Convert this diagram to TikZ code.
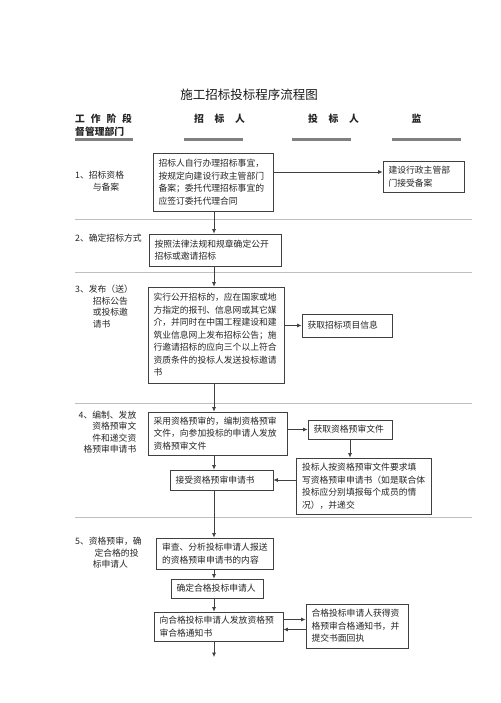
\documentclass[tikz,border=0pt]{standalone}
\usepackage{fontspec}
\setmainfont{Noto Sans CJK SC}
\usepackage{tikz}
\usetikzlibrary{calc}
\usetikzlibrary{arrows.meta}
\usetikzlibrary{positioning}
\newcommand{\boxfont}{\fontsize{8.8}{12.5}\selectfont}
\newcommand{\sidefont}{\fontsize{8.8}{11.5}\selectfont}
\colorlet{boxline}{black!75}
\colorlet{sepline}{black!25}

\begin{document}
\begin{tikzpicture}[
x=1pt,y=-1pt,
Box/.style={draw=boxline,line width=0.8pt,align=left,inner xsep=5.5pt,inner ysep=2pt,font=\boxfont,text=black!85},
Side/.style={inner sep=0pt,font=\sidefont,text=black!85},
Head/.style={inner sep=0pt,font=\fontsize{9.8}{13}\selectfont\bfseries,text=black!85},
Bar/.style={draw=black!50,line width=3.2pt},
Sep/.style={draw=sepline,line width=0.6pt},
Flow/.style={draw=boxline,line width=0.7pt,-{Latex[length=4.5pt,width=4pt]}}
]
\path[fill=white] (0,0) rectangle (500,703);
\useasboundingbox (0,0) rectangle (500,703);

% title and columns
\node[font=\fontsize{12.5}{15}\selectfont,text=black!90] (title) at (249,95) {施工招标投标程序流程图};
\node[Head,anchor=west,align=left] (h0) at (75,125.5) {工\hspace{.6em}作\hspace{.6em}阶\hspace{.6em}段\\督管理部门};
\node[Head] (h1) at (219.5,119) {招\hspace{1.1em}标\hspace{1.1em}人};
\node[Head] (h2) at (333.5,119) {投\hspace{1.1em}标\hspace{1.1em}人};
\node[Head] (h3) at (416.5,119) {监};
\foreach \a/\b in {75/133,184/243,292/351,392/461}
  \draw[Bar] (\a,139.5) -- (\b,139.5);

\foreach \y in {219,272,403,517}
  \draw[Sep] (75,\y) -- (472,\y);

% stages
\node[Side,anchor=west,align=left] (s1) at (75,181) {1、招标资格\\\hspace*{2em}与备案};
\node[Side,anchor=west,align=left] (s2) at (75,238) {2、确定招标方式};
\node[Side,anchor=west,align=left] (s3) at (75,306.5) {3、发布（送）\\\hspace*{2em}招标公告\\\hspace*{2em}或投标邀\\\hspace*{2em}请书};
\node[Side,anchor=east,align=right] (s4) at (136.5,432) {4、编制、发放\\资格预审文\\件和递交资\\格预审申请书};
\node[Side,anchor=west,align=left] (s5) at (75,553) {5、资格预审，确\\\hspace*{2.2em}定合格的投\\\hspace*{2em}标申请人};

% boxes
\node[Box,text width=109pt,minimum height=58pt] (b1) at (213,182) {招标人自行办理招标事宜，\\按规定向建设行政主管部门\\备案；委托代理招标事宜的\\应签订委托代理合同};
\node[Box,text width=70pt,minimum height=31pt] (b1r) at (423.5,176.5) {建设行政主管部\\门接受备案};
\node[Box,text width=121pt,minimum height=32pt] (b2) at (215,250) {按照法律法规和规章确定公开\\招标或邀请招标};
\node[Box,text width=125pt,minimum height=96pt] (b3) at (216,335) {实行公开招标的，应在国家或地\\方指定的报刊、信息网或其它媒\\介，并同时在中国工程建设和建\\筑业信息网上发布招标公告；施\\行邀请招标的应向三个以上符合\\资质条件的投标人发送投标邀请\\书};
\node[Box,text width=79pt,minimum height=23pt] (b3r) at (347,325.5) {获取招标项目信息};
\node[Box,text width=128pt,minimum height=43pt] (b4) at (217.5,433.5) {采用资格预审的，编制资格预审\\文件，向参加投标的申请人发放\\资格预审文件};
\node[Box,text width=73pt,minimum height=19pt] (b4r) at (350,429.5) {获取资格预审文件};
\node[Box,text width=124pt,minimum height=56pt] (b4s) at (364,486) {投标人按资格预审文件要求填\\写资格预审申请书（如是联合体\\投标应分别填报每个成员的情\\况），并递交};
\node[Box,text width=92pt,minimum height=20pt] (b5) at (221.5,480) {接受资格预审申请书};
\node[Box,text width=106pt,minimum height=31pt] (b6) at (215,553.5) {审查、分析投标申请人报送\\的资格预审申请书的内容};
\node[Box,text width=81pt,minimum height=19pt] (b7) at (217,588.5) {确定合格投标申请人};
\node[Box,text width=118pt,minimum height=29pt] (b8) at (218.5,626.5) {向合格投标申请人发放资格预\\审合格通知书};
\node[Box,text width=91pt,minimum height=44pt] (b8r) at (357,626) {合格投标申请人获得资\\格预审合格通知书，并\\提交书面回执};

% connectors
\coordinate (spine) at (214,0);
\coordinate (tail) at (214,657);
\foreach \u/\v in {b1/b2,b2/b3,b3/b4,b4/b5,b5/b6,b6/b7,b7/b8}
  \draw[Flow] (spine |- \u.south) -- (spine |- \v.north);
\draw[Flow] (spine |- b8.south) -- (tail);

\coordinate (a1) at ([yshift=4.5pt]b1r.west);
\draw[Flow] (b1.east |- a1) -- (a1);
\draw[Flow] (b3.east |- b3r.west) -- (b3r.west);
\draw[Flow] (b4.east |- b4r.west) -- (b4r.west);
\draw[Flow] (b4r.south) -- (b4r.south |- b4s.north);
\draw[Flow] (b4s.west |- b5.east) -- (b5.east);

\coordinate (o1) at ([yshift=7pt]b8.east);
\coordinate (o2) at ([yshift=-3pt]b8.east);
\draw[Flow] (o1) -- (o1 -| b8r.west);
\draw[Flow] (o2 -| b8r.west) -- (o2);

\end{tikzpicture}
\end{document}
